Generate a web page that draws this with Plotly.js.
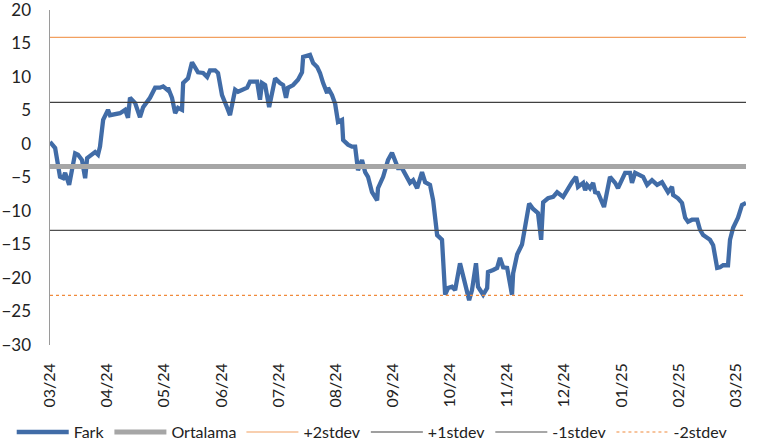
<!DOCTYPE html>
<html>
<head>
<meta charset="utf-8">
<script src="https://cdn.plot.ly/plotly-3.0.1.min.js"></script>
<style>html,body{margin:0;padding:0;background:#fff;}#chart{width:783px;height:447px;}</style>
</head>
<body>
<div id="chart"></div>
<script>
// Trading-day index (horizontal position of each observation)
const dayIndex = [0,1.8,3.5,4.6,5.3,6.7,8.8,9.8,11.2,12.3,13,15.8,16.8,17.5,18.6,20.3,21,24.5,26.3,27.3,28,29.8,31.5,32.6,35,36.8,38.5,39.6,41,41.3,42.7,43.8,44.8,46.2,46.6,48.3,49.7,50.8,51.8,53.6,55,56,57.8,58.8,60.2,62,63,64.8,65.8,69,70,72.5,73.5,74.2,75.3,76.7,78.8,80.5,81.6,82.6,83.3,85.1,86.8,88.2,88.6,91,92.1,93.5,94.5,95.6,97,97.3,98.7,99.8,100.8,102.2,102.6,104.3,105.7,106.8,107.5,107.8,109.2,110.3,111.3,112.7,114.5,114.8,116.6,118.3,119.7,120.8,121.8,123.2,125,126,127.1,128.5,130.2,131.3,133,134.1,135.5,137.2,138.3,139.3,140.7,141.8,143.5,145.3,146.7,147.7,149.1,149.8,151.6,153,153.3,155.1,156.5,157.5,158.6,160,161.7,162.1,163.5,165.2,166.3,167.7,169.1,170.8,171.9,172.6,174.3,176.1,177.5,179.6,182.7,184.1,184.8,186.6,187.3,188,189,190.1,190.8,191.8,193.9,195,196,197.8,198.8,201.3,203,203.7,204.8,207.6,209,210.7,212.5,214.2,215.3,216.3,217.7,218.1,219.8,221.2,222.3,223.3,224.7,226.5,227.5,228.6,231,232.1,233.5,234.5,235.6,237.3,238,239.1,240.8,242.2,243.6];
const fark = [0.3,-0.6,-4.9,-5.1,-4.3,-6.1,-1.4,-1.6,-2.4,-5.1,-2.1,-1.2,-1.6,-0.4,3.6,5.1,4.3,4.6,5.1,3.9,6.9,6.1,4.0,5.5,6.9,8.4,8.4,8.6,8.1,8.4,6.9,4.6,5.4,5.1,9.1,9.8,12.2,11.5,10.7,10.6,10.0,11.0,11.0,10.6,7.3,5.4,4.3,8.1,7.8,8.4,9.3,9.3,6.6,9.1,8.8,5.5,9.8,9.1,8.8,6.9,8.4,8.8,9.6,10.7,13.0,13.3,12.1,11.5,10.6,9.1,7.6,8.4,7.3,6.0,3.3,3.6,0.6,-0.1,-0.4,-0.4,-2.7,-3.9,-2.4,-4.2,-4.9,-7.2,-8.4,-6.6,-4.9,-2.4,-1.3,-2.4,-3.6,-3.6,-4.9,-5.8,-5.4,-6.6,-4.2,-5.7,-6.1,-8.4,-13.6,-14.3,-22.5,-21.5,-21.3,-21.8,-17.8,-21.3,-23.3,-21.8,-17.8,-21.3,-22.5,-21.5,-19.1,-18.8,-18.5,-17.0,-18.4,-18.5,-22.5,-19.3,-16.5,-15.0,-12.4,-8.9,-9.7,-10.3,-14.3,-8.7,-8.1,-7.9,-7.2,-7.9,-5.7,-4.9,-6.4,-5.8,-6.9,-6.1,-6.6,-5.8,-7.2,-7.3,-9.4,-7.3,-4.9,-5.8,-6.6,-4.3,-4.3,-5.8,-4.3,-4.9,-6.1,-5.4,-6.1,-5.7,-6.6,-7.2,-6.4,-7.6,-8.1,-8.8,-11.0,-11.6,-11.3,-11.3,-12.8,-13.6,-14.3,-15.1,-18.5,-18.4,-18.1,-18.1,-14.3,-12.5,-11.0,-9.1,-8.8];

// Reference levels
const ortalama = -3.35;
const plus2 = 15.9;
const plus1 = 6.2;
const minus1 = -12.9;
const minus2 = -22.6;

// Month tick labels and their trading-day index
const tickIdx = [0,20,40,60,80,100,120,140,160,180,200,220,240];
const tickLabels = ["03/24","04/24","05/24","06/24","07/24","08/24","09/24","10/24","11/24","12/24","01/25","02/25","03/25"];

const xs = [dayIndex[0], dayIndex[dayIndex.length-1]];
function flat(v){ return [v, v]; }

const FONT = "Lato, 'Liberation Sans', sans-serif";
const FS = 17;

const traces = [
  {x: dayIndex, y: fark, name: "Fark", mode: "lines", line: {color: "#416CA7", width: 4.3}},
  {x: xs, y: flat(ortalama), name: "Ortalama", mode: "lines", line: {color: "#A6A6A6", width: 5}},
  {x: xs, y: flat(plus2), name: "+2stdev", mode: "lines", line: {color: "#F2A060", width: 1.2}},
  {x: xs, y: flat(plus1), name: "+1stdev", mode: "lines", line: {color: "#404040", width: 1.2}},
  {x: xs, y: flat(minus1), name: "-1stdev", mode: "lines", line: {color: "#505050", width: 1.2}},
  {x: xs, y: flat(minus2), name: "-2stdev", mode: "lines", line: {color: "#F08A3C", width: 1.2, dash: "dot"}}
];

const layout = {
  width: 783, height: 447,
  margin: {l: 50, r: 37, t: 10, b: 102, autoexpand: false},
  paper_bgcolor: "#fff", plot_bgcolor: "#fff",
  font: {family: FONT, size: FS, color: "#222"},
  showlegend: true,
  legend: {orientation: "h", x: -0.055, xanchor: "left", y: -0.26, yanchor: "middle",
           font: {family: FONT, size: 16, color: "#222"}, itemwidth: 52, tracegroupgap: 0,
           bgcolor: "rgba(0,0,0,0)"},
  xaxis: {range: [xs[0], xs[1]], tickmode: "array", tickvals: tickIdx, ticktext: tickLabels,
          tickangle: -90, showgrid: false, zeroline: false, showline: false, ticks: "",
          ticklabelstandoff: 14, ticklabeloverflow: "allow",
          tickfont: {family: FONT, size: 16, color: "#222"}},
  yaxis: {range: [-30, 20], dtick: 5, tick0: 0, showgrid: false, zeroline: false,
          showline: true, linecolor: "#9A9A9A", linewidth: 1.5, ticks: "",
          ticklabelstandoff: 14, ticklabeloverflow: "allow",
          tickfont: {family: FONT, size: FS, color: "#222"}}
};

Plotly.newPlot("chart", traces, layout, {displayModeBar: false, staticPlot: true});
</script>
</body>
</html>
